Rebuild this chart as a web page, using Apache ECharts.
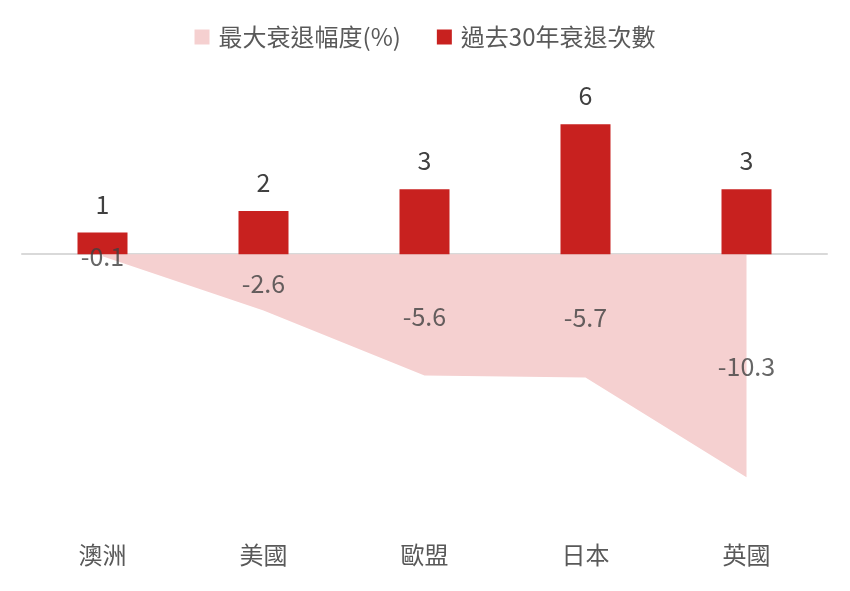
<!DOCTYPE html>
<html>
<head>
<meta charset="utf-8">
<script src="https://cdn.jsdelivr.net/npm/echarts@6/dist/echarts.min.js"></script>
<style>html,body{margin:0;padding:0;background:#fff;}#c{width:850px;height:591px;}</style>
</head>
<body>
<div id="c"></div>
<script>
const categories = ['澳洲', '美國', '歐盟', '日本', '英國'];
const drawdown = [-0.1, -2.6, -5.6, -5.7, -10.3];
const recessions = [1, 2, 3, 6, 3];
const seriesNames = ['最大衰退幅度(%)', '過去30年衰退次數'];

const FONT = '"Noto Sans CJK TC", "Noto Sans", sans-serif';
const chart = echarts.init(document.getElementById('c'));
chart.setOption({
  animation: false,
  textStyle: { fontFamily: FONT },
  legend: {
    top: 20,
    left: 'center',
    itemWidth: 15,
    itemHeight: 15,
    itemGap: 36,
    textStyle: { fontSize: 24, color: '#595959', fontFamily: FONT, padding: [0, 0, 0, 4] },
    data: [
      { name: seriesNames[0], icon: 'rect', itemStyle: { color: '#F5D0D0' } },
      { name: seriesNames[1], icon: 'rect', itemStyle: { color: '#C8211F' } }
    ]
  },
  grid: { left: 22, right: 23, top: 81, height: 433 },
  xAxis: [
    {
      type: 'category', data: categories, boundaryGap: true,
      axisLine: { onZero: true, lineStyle: { color: '#D9D9D9', width: 2 } },
      axisTick: { show: false }, axisLabel: { show: false }, splitLine: { show: false }
    },
    {
      type: 'category', data: categories, boundaryGap: true, position: 'bottom',
      axisLine: { show: false, onZero: false }, axisTick: { show: false },
      axisLabel: { fontSize: 24, color: '#595959', margin: 29, fontFamily: FONT }
    }
  ],
  yAxis: { type: 'value', min: -12, max: 8, show: false, splitLine: { show: false } },
  series: [
    {
      name: seriesNames[0], type: 'line', data: drawdown,
      showSymbol: false, symbol: 'none',
      lineStyle: { width: 0, color: '#F5D0D0' },
      itemStyle: { color: '#F5D0D0' },
      areaStyle: { color: '#F5D0D0', opacity: 1 },
      z: 1
    },
    {
      name: seriesNames[1], type: 'bar', data: recessions, barWidth: 50,
      itemStyle: { color: '#C8211F' },
      label: { show: true, position: 'top', distance: 16, fontSize: 25, color: '#404040', fontFamily: FONT },
      z: 2
    },
    {
      name: 'labels', type: 'scatter', symbolSize: 0, silent: true,
      data: drawdown.map(v => v / 2 - 0.06),
      label: {
        show: true, position: 'inside', fontSize: 25, color: '#404040', fontFamily: FONT,
        formatter: p => String(drawdown[p.dataIndex])
      },
      z: 5
    }
  ]
});
</script>
</body>
</html>
